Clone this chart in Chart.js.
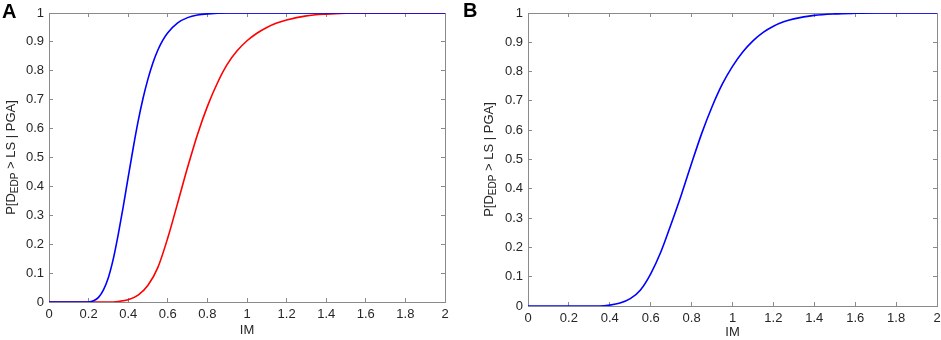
<!DOCTYPE html>
<html>
<head>
<meta charset="utf-8">
<script src="https://cdn.jsdelivr.net/npm/chart.js@4/dist/chart.umd.min.js"></script>
<style>
  html, body { margin: 0; padding: 0; background: #fff; }
  body { width: 941px; height: 340px; position: relative; overflow: hidden; }
  .box { position: absolute; top: 0; height: 340px; }
  #boxA { left: 0; width: 455px; }
  #boxB { left: 455px; width: 486px; }
</style>
</head>
<body>
<div class="box" id="boxA"><canvas id="chartA"></canvas></div>
<div class="box" id="boxB"><canvas id="chartB"></canvas></div>
<script>
// ---- Data ----
// Panel A, blue curve
const imBlueA  = [0, 0.1, 0.2, 0.225, 0.25, 0.275, 0.3, 0.325, 0.35, 0.375, 0.4, 0.425, 0.45, 0.475, 0.5, 0.525, 0.55, 0.575, 0.6, 0.65, 0.7, 0.75, 0.8, 0.9, 1.0, 1.5, 2.0];
const probBlueA = [0, 0, 0, 0.004, 0.016, 0.042, 0.085, 0.15, 0.235, 0.33, 0.432, 0.532, 0.625, 0.705, 0.772, 0.828, 0.872, 0.906, 0.932, 0.966, 0.984, 0.993, 0.997, 1, 1, 1, 1];
// Panel A, red curve
const imRedA   = [0, 0.1, 0.2, 0.3, 0.35, 0.4, 0.45, 0.5, 0.55, 0.6, 0.65, 0.7, 0.75, 0.8, 0.85, 0.9, 0.95, 1.0, 1.05, 1.1, 1.15, 1.2, 1.3, 1.4, 1.5, 1.6, 1.8, 2.0];
const probRedA = [0, 0, 0, 0, 0.002, 0.008, 0.024, 0.058, 0.12, 0.222, 0.343, 0.466, 0.58, 0.677, 0.757, 0.822, 0.869, 0.904, 0.93, 0.95, 0.965, 0.976, 0.99, 0.996, 0.999, 1, 1, 1];
// Panel B, blue curve
const imBlueB  = [0, 0.1, 0.2, 0.3, 0.35, 0.4, 0.45, 0.5, 0.55, 0.6, 0.65, 0.7, 0.75, 0.8, 0.85, 0.9, 0.95, 1.0, 1.05, 1.1, 1.15, 1.2, 1.25, 1.3, 1.4, 1.5, 1.6, 1.7, 1.8, 2.0];
const probBlueB = [0, 0, 0, 0, 0, 0.003, 0.01, 0.025, 0.055, 0.11, 0.185, 0.28, 0.38, 0.487, 0.59, 0.68, 0.757, 0.818, 0.867, 0.905, 0.934, 0.955, 0.97, 0.98, 0.992, 0.997, 0.999, 1, 1, 1];

// Tick labels
const xTickValues = [0, 0.2, 0.4, 0.6, 0.8, 1, 1.2, 1.4, 1.6, 1.8, 2];
const yTickValues = [0, 0.1, 0.2, 0.3, 0.4, 0.5, 0.6, 0.7, 0.8, 0.9, 1];
const xTitle = 'IM';
const yTitleParts = ['P[D', 'EDP', ' > LS | PGA]'];
const panelLetters = ['A', 'B'];

// ---- Helpers ----
const FONT = '"Liberation Sans", Arial, Helvetica, sans-serif';
const AXIS_COLOR = '#8a8a8a';
const TEXT_COLOR = '#262626';

function pairs(xs, ys) { return xs.map((x, i) => ({ x: x, y: ys[i] })); }
function fmt(v) { return String(Math.round(v * 10) / 10); }

function makeScales(cfg) {
  const common = (pos, isX, showLabels) => ({
    type: 'linear',
    position: pos,
    min: 0,
    max: isX ? 2 : 1,
    afterBuildTicks: s => { s.ticks = (isX ? xTickValues : yTickValues).map(v => ({ value: v })); },
    afterFit: s => {
      if (pos === 'bottom') s.height = cfg.xH;
      else if (pos === 'left') s.width = cfg.yW;
      else if (pos === 'top') s.height = 0;
      else s.width = 0;
      s.paddingLeft = 0; s.paddingRight = 0; s.paddingTop = 0; s.paddingBottom = 0;
    },
    grid: { drawOnChartArea: false, drawTicks: true, tickLength: -4, color: AXIS_COLOR, tickColor: AXIS_COLOR, lineWidth: 1 },
    border: { display: true, color: AXIS_COLOR, width: 1 },
    ticks: {
      display: showLabels,
      padding: 9,
      color: TEXT_COLOR,
      font: { family: FONT, size: 13 },
      maxRotation: 0,
      autoSkip: false,
      callback: v => fmt(v)
    }
  });
  const x = common('bottom', true, true);
  x.title = { display: true, text: xTitle, color: TEXT_COLOR, font: { family: FONT, size: 13 }, padding: { top: 0, bottom: cfg.titlePad } };
  return {
    x: x,
    y: common('left', false, true),
    x2: common('top', true, false),
    y2: common('right', false, false)
  };
}

const yTitlePlugin = {
  id: 'yTitleSub',
  afterDraw(chart, args, opts) {
    const ctx = chart.ctx, a = chart.chartArea;
    const cy = (a.top + a.bottom) / 2;
    const f1 = '13px ' + FONT, f2 = '10px ' + FONT;
    const fonts = [f1, f2, f1];
    const dys = [0, 4, 0];
    ctx.save();
    ctx.fillStyle = TEXT_COLOR;
    ctx.textBaseline = 'middle';
    ctx.textAlign = 'left';
    let total = 0;
    const widths = yTitleParts.map((t, i) => { ctx.font = fonts[i]; const w = ctx.measureText(t).width; total += w; return w; });
    ctx.translate(opts.cx, cy);
    ctx.rotate(-Math.PI / 2);
    let xx = -total / 2;
    yTitleParts.forEach((t, i) => { ctx.font = fonts[i]; ctx.fillText(t, xx, dys[i]); xx += widths[i]; });
    ctx.restore();
    ctx.save();
    ctx.fillStyle = '#000';
    ctx.font = 'bold 20px ' + FONT;
    ctx.textBaseline = 'alphabetic';
    ctx.textAlign = 'left';
    ctx.fillText(opts.letter, opts.lx, opts.ly);
    ctx.restore();
  }
};

function makeChart(id, datasets, cfg) {
  return new Chart(document.getElementById(id), {
    type: 'line',
    data: { datasets: datasets },
    options: {
      responsive: true,
      maintainAspectRatio: false,
      animation: false,
      events: [],
      layout: { padding: { left: 0, right: cfg.padR, top: 13, bottom: 0 } },
      scales: makeScales(cfg),
      plugins: { legend: { display: false }, tooltip: { enabled: false },
        yTitleSub: { cx: cfg.titleX, letter: cfg.letter, lx: cfg.lx, ly: cfg.ly } },
      elements: { point: { radius: 0 }, line: { borderWidth: 1.6, cubicInterpolationMode: 'monotone' } }
    },
    plugins: [yTitlePlugin]
  });
}

makeChart('chartA', [
  { data: pairs(imBlueA, probBlueA), borderColor: '#0000ff', fill: false, xAxisID: 'x', yAxisID: 'y' },
  { data: pairs(imRedA, probRedA), borderColor: '#ff0000', fill: false, xAxisID: 'x', yAxisID: 'y' }
], { xH: 38, yW: 49, padR: 10, titlePad: 2, titleX: 11, letter: panelLetters[0], lx: 2, ly: 18 });

makeChart('chartB', [
  { data: pairs(imBlueB, probBlueB), borderColor: '#0000ff', fill: false, xAxisID: 'x', yAxisID: 'y' }
], { xH: 34, yW: 73, padR: 4, titlePad: 0, titleX: 34, letter: panelLetters[1], lx: 8, ly: 17 });
</script>
</body>
</html>
